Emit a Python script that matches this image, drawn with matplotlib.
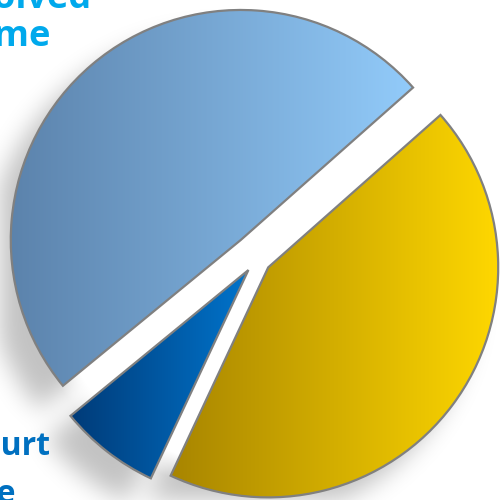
import matplotlib
matplotlib.use("Agg")
import matplotlib.pyplot as plt
import numpy as np
from matplotlib.colors import LinearSegmentedColormap

# slice shares (%), counter-clockwise from the start angle
shares = [49.4, 7.1, 43.5]
explode = [25, 14, 14]  # pie() offsets in data units (pixels here)
grad_left = ["#5b82ab", "#003b78", "#a88500"]
grad_right = ["#92cbfa", "#0074cc", "#ffd800"]

top_lines = ["Resolved", "on time"]
bottom_lines = ["Went to court", "in due time"]

W = 500
CX, CY, R = 257, 241, 230
fig = plt.figure(figsize=(5, 5), dpi=100)
ax = fig.add_axes([0, 0, 1, 1])

wedges, _ = ax.pie(shares, explode=explode, startangle=41.5, center=(CX, CY),
                   radius=R, wedgeprops=dict(edgecolor="#808080", linewidth=1.6))

# soft drop shadow from the slice silhouettes, pushed down-left,
# kept out of the gaps between slices
yy, xx = np.mgrid[0:W, 0:W] + 0.5
pts = np.column_stack([xx.ravel() + 24, yy.ravel() + 24])
mask = np.zeros(W * W)
for w in wedges:
    mask = np.maximum(mask, w.get_path().contains_points(pts))
mask = mask.reshape(W, W)
k = np.exp(-0.5 * (np.arange(-36, 37) / 12.0) ** 2)
k /= k.sum()
blur = np.apply_along_axis(lambda r: np.convolve(r, k, mode="same"), 1, mask)
blur = np.apply_along_axis(lambda c: np.convolve(c, k, mode="same"), 0, blur)
dist = np.hypot(xx - CX, yy - CY)
blur *= np.clip((dist - (R - 20)) / 25, 0, 1)
shadow = np.zeros((W, W, 4))
shadow[..., 3] = blur * 0.24
ax.imshow(shadow, extent=(0, W, 0, W), origin="lower", zorder=0, interpolation="bilinear")

# horizontal gradient fill inside each slice
for w, cl, cr in zip(wedges, grad_left, grad_right):
    v = w.get_path().vertices
    x0, x1 = v[:, 0].min(), v[:, 0].max()
    y0, y1 = v[:, 1].min(), v[:, 1].max()
    cmap = LinearSegmentedColormap.from_list("g", [cl, cr])
    im = ax.imshow(np.linspace(0, 1, 256).reshape(1, -1), cmap=cmap, aspect="auto",
                   extent=(x0, x1, y0, y1), zorder=2, interpolation="bilinear")
    im.set_clip_path(w)
    w.set_facecolor("none")
    w.set_zorder(3)

for line, xe, yb in zip(top_lines, [92, 50], [8, 46]):
    ax.text(xe, W - yb, line, ha="right", va="baseline", fontsize=26,
            fontweight="bold", color="#00a9ec", family="Open Sans")
for line, xe, yb in zip(bottom_lines, [50, 15], [455, 503]):
    ax.text(xe, W - yb, line, ha="right", va="baseline", fontsize=23,
            fontweight="bold", color="#0070c0", family="Open Sans")

ax.set_xlim(0, W)
ax.set_ylim(0, W)
ax.set_aspect("auto")
ax.axis("off")
fig.savefig("out.png", dpi=100, facecolor="white")
